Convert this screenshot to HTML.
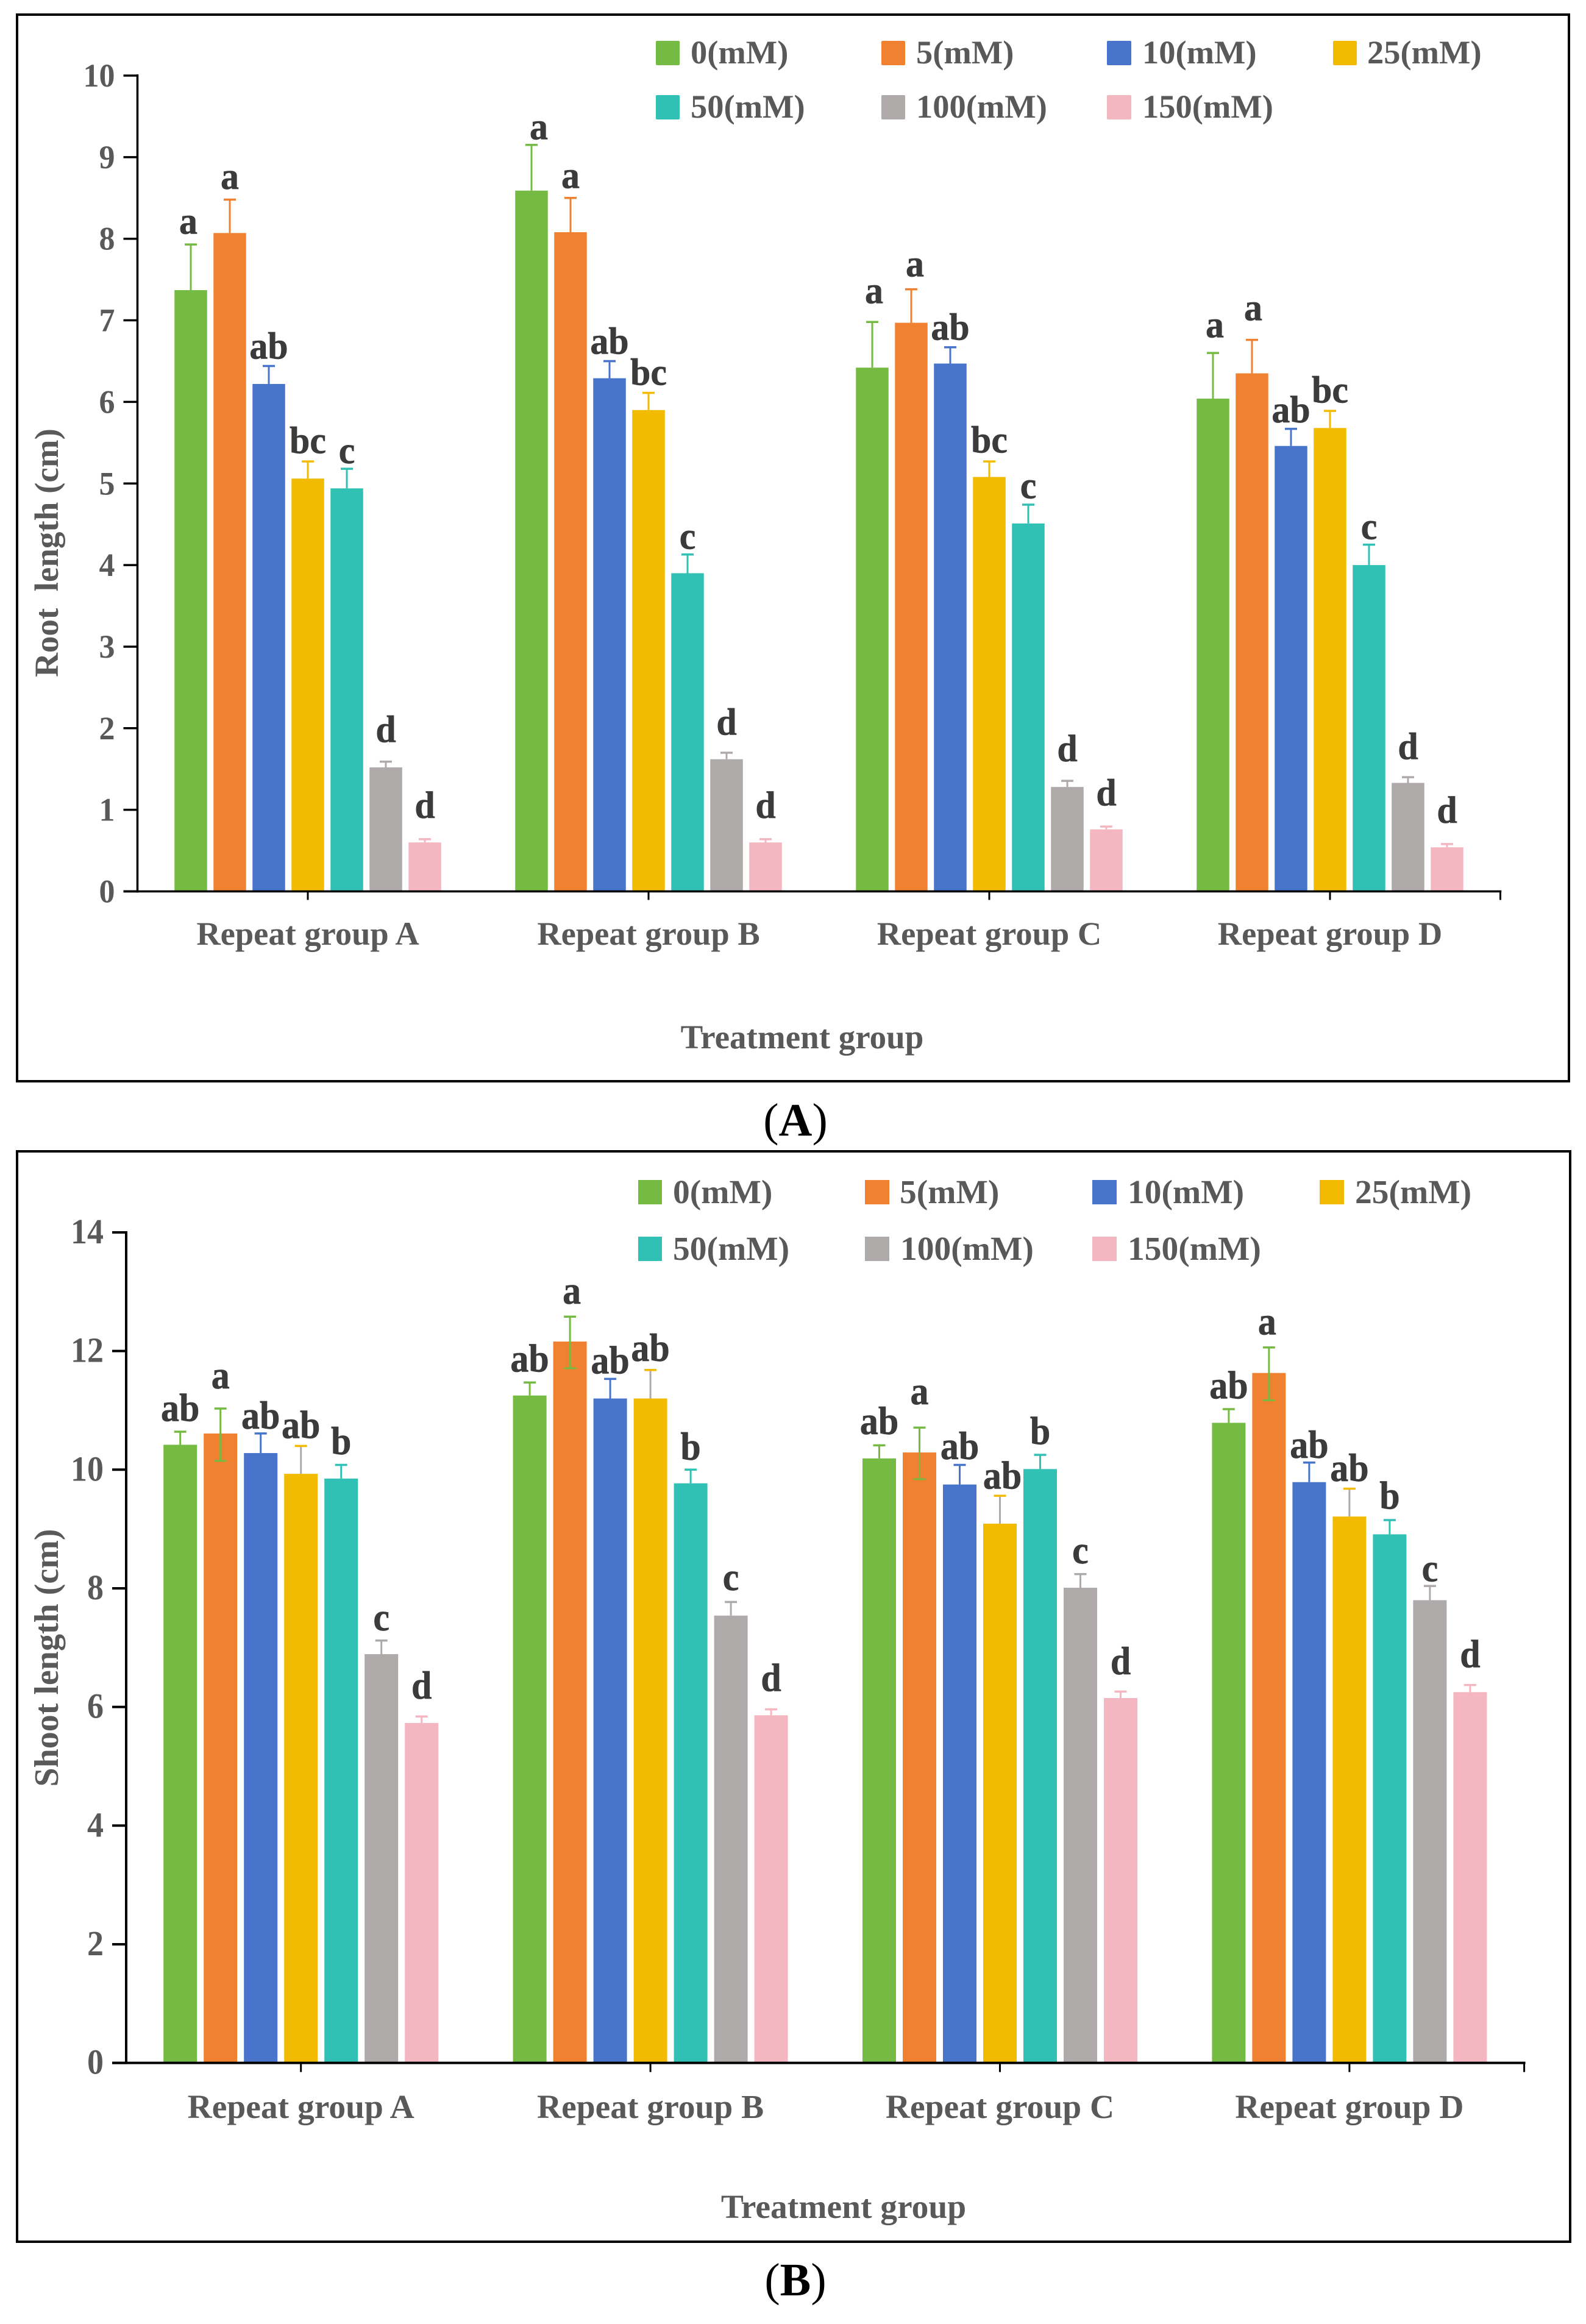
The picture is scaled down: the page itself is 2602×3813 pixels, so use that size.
<!DOCTYPE html>
<html lang="en">
<head>
<meta charset="utf-8">
<title>Root and shoot length by treatment group</title>
<style>
  html,body{margin:0;padding:0;background:#fff;}
  svg{display:block;}
  text{font-family:"Liberation Serif","Times New Roman",serif;}
  .t{font-weight:700;fill:#595959;white-space:pre;}
  .leg{font-size:54.5px;}
  .legb{font-size:55.5px;}
</style>
</head>
<body>
<svg id="figure" xmlns="http://www.w3.org/2000/svg" width="2602" height="3813" viewBox="0 0 2602 3813">
  <rect x="0" y="0" width="2602" height="3813" fill="#fff"/>

  <!-- Panel A -->
  <rect x="28" y="24" width="2546" height="1750" fill="none" stroke="#000" stroke-width="4"/>
  <g id="panelA"></g>
  <g>
    <rect x="1076" y="67" width="39" height="40" rx="2" fill="#75BB43"/>
    <text class="t leg" x="1133" y="104">0(mM)</text>
    <rect x="1446" y="67" width="39" height="40" rx="2" fill="#EF8130"/>
    <text class="t leg" x="1503" y="104">5(mM)</text>
    <rect x="1816" y="67" width="40" height="40" rx="2" fill="#4874CB"/>
    <text class="t leg" x="1874" y="104">10(mM)</text>
    <rect x="2187" y="67" width="39" height="40" rx="2" fill="#F2BB02"/>
    <text class="t leg" x="2243" y="104">25(mM)</text>
    <rect x="1076" y="156" width="39" height="40" rx="2" fill="#30C0B4"/>
    <text class="t leg" x="1133" y="193">50(mM)</text>
    <rect x="1446" y="156" width="39" height="40" rx="2" fill="#AEAAAA"/>
    <text class="t leg" x="1503" y="193">100(mM)</text>
    <rect x="1816" y="156" width="40" height="40" rx="2" fill="#F4B6C0"/>
    <text class="t leg" x="1874" y="193">150(mM)</text>
  </g>
  <text class="t" font-size="55" text-anchor="middle" x="1316" y="1720">Treatment group</text>
  <text class="t" font-size="55" text-anchor="middle" transform="translate(95,907) rotate(-90)" xml:space="preserve">Root  length (cm)</text>
  <text font-size="76" text-anchor="middle" x="1305" y="1863" fill="#000">(<tspan font-weight="700">A</tspan>)</text>

  <!-- Panel B -->
  <rect x="28" y="1889" width="2548" height="1789" fill="none" stroke="#000" stroke-width="4"/>
  <g id="panelB"></g>
  <g>
    <rect x="1047" y="1936" width="39" height="40" fill="#75BB43"/>
    <text class="t legb" x="1104" y="1974">0(mM)</text>
    <rect x="1419" y="1936" width="40" height="40" fill="#EF8130"/>
    <text class="t legb" x="1476" y="1974">5(mM)</text>
    <rect x="1792" y="1936" width="40" height="40" fill="#4874CB"/>
    <text class="t legb" x="1850" y="1974">10(mM)</text>
    <rect x="2165" y="1936" width="40" height="40" fill="#F2BB02"/>
    <text class="t legb" x="2223" y="1974">25(mM)</text>
    <rect x="1047" y="2029" width="39" height="40" fill="#30C0B4"/>
    <text class="t legb" x="1104" y="2067">50(mM)</text>
    <rect x="1419" y="2029" width="40" height="40" fill="#AEAAAA"/>
    <text class="t legb" x="1477" y="2067">100(mM)</text>
    <rect x="1792" y="2029" width="40" height="40" fill="#F4B6C0"/>
    <text class="t legb" x="1850" y="2067">150(mM)</text>
  </g>
  <text class="t" font-size="55.5" text-anchor="middle" x="1384" y="3639">Treatment group</text>
  <text class="t" font-size="56" text-anchor="middle" transform="translate(95,2720) rotate(-90)">Shoot length (cm)</text>
  <text font-size="76" text-anchor="middle" x="1305" y="3766" fill="#000">(<tspan font-weight="700">B</tspan>)</text>
</svg>

<script>
// ---- shared data ----
const categories = ['Repeat group A', 'Repeat group B', 'Repeat group C', 'Repeat group D'];
const seriesNames = ['0mm', '5mm', '10mm', '25mm', '50mm', '100mm', '150mm'];

// ---- root length (panel A), one array per repeat group, one value per concentration ----
const rootTicks = [0, 1, 2, 3, 4, 5, 6, 7, 8, 9, 10];
const rootMeansA = [7.37, 8.07, 6.22, 5.06, 4.94, 1.52, 0.60];
const rootMeansB = [8.59, 8.08, 6.29, 5.90, 3.90, 1.62, 0.60];
const rootMeansC = [6.42, 6.97, 6.47, 5.08, 4.51, 1.28, 0.76];
const rootMeansD = [6.04, 6.35, 5.46, 5.68, 4.00, 1.33, 0.54];
const rootUpperA = [7.93, 8.48, 6.44, 5.27, 5.18, 1.59, 0.64];
const rootUpperB = [9.15, 8.50, 6.50, 6.11, 4.13, 1.70, 0.64];
const rootUpperC = [6.98, 7.38, 6.67, 5.27, 4.74, 1.355, 0.795];
const rootUpperD = [6.60, 6.76, 5.67, 5.89, 4.25, 1.40, 0.58];
const rootLettersA = ['a', 'a', 'ab', 'bc', 'c', 'd', 'd'];
const rootLettersB = ['a', 'a', 'ab', 'bc', 'c', 'd', 'd'];
const rootLettersC = ['a', 'a', 'ab', 'bc', 'c', 'd', 'd'];
const rootLettersD = ['a', 'a', 'ab', 'bc', 'c', 'd', 'd'];
// how far above each error bar the letter sits, in axis units
const rootLiftA = [0.13, 0.13, 0.09, 0.10, 0.07, 0.24, 0.26];
const rootLiftB = [0.07, 0.12, 0.09, 0.10, 0.07, 0.22, 0.26];
const rootLiftC = [0.23, 0.16, 0.09, 0.11, 0.08, 0.24, 0.26];
const rootLiftD = [0.19, 0.24, 0.08, 0.10, 0.07, 0.22, 0.26];

// ---- shoot length (panel B) ----
const shootTicks = [0, 2, 4, 6, 8, 10, 12, 14];
const shootMeansA = [10.42, 10.61, 10.28, 9.93, 9.85, 6.89, 5.73];
const shootMeansB = [11.25, 12.16, 11.20, 11.20, 9.77, 7.54, 5.86];
const shootMeansC = [10.19, 10.29, 9.75, 9.09, 10.01, 8.01, 6.15];
const shootMeansD = [10.79, 11.63, 9.79, 9.21, 8.91, 7.80, 6.25];
const shootUpperA = [10.64, 11.03, 10.61, 10.40, 10.08, 7.12, 5.84];
const shootUpperB = [11.47, 12.58, 11.53, 11.68, 10.00, 7.77, 5.96];
const shootUpperC = [10.41, 10.71, 10.08, 9.56, 10.25, 8.24, 6.26];
const shootUpperD = [11.02, 12.06, 10.12, 9.68, 9.15, 8.04, 6.37];
// the 5 mM bars also show a lower whisker in panel B
const shootLowerOrange = [10.15, 11.71, 9.84, 11.17];
const shootLettersA = ['ab', 'a', 'ab', 'ab', 'b', 'c', 'd'];
const shootLettersB = ['ab', 'a', 'ab', 'ab', 'b', 'c', 'd'];
const shootLettersC = ['ab', 'a', 'ab', 'ab', 'b', 'c', 'd'];
const shootLettersD = ['ab', 'a', 'ab', 'ab', 'b', 'c', 'd'];
const shootLiftA = [0.18, 0.34, 0.08, 0.13, 0.18, 0.17, 0.30];
const shootLiftB = [0.18, 0.22, 0.09, 0.15, 0.17, 0.20, 0.31];
const shootLiftC = [0.19, 0.39, 0.10, 0.12, 0.18, 0.18, 0.29];
const shootLiftD = [0.18, 0.22, 0.08, 0.13, 0.19, 0.08, 0.30];

// ---- drawing ----
const SVGNS = 'http://www.w3.org/2000/svg';
const barColors = ['#75BB43', '#EF8130', '#4874CB', '#F2BB02', '#30C0B4', '#AEAAAA', '#F4B6C0'];

function make(tag, attrs, parent) {
  const node = document.createElementNS(SVGNS, tag);
  for (const k in attrs) node.setAttribute(k, attrs[k]);
  parent.appendChild(node);
  return node;
}

function drawChart(opt) {
  const root = document.getElementById(opt.id);
  const yOf = v => opt.y0 - v * opt.unit;
  const catX = i => opt.axisX + (i + 0.5) * opt.catStep;
  const barX = (c, s) => catX(c) + (s - 3) * opt.barStep;

  // bars, whiskers, letters
  opt.means.forEach((groupMeans, c) => {
    groupMeans.forEach((mean, s) => {
      const cx = barX(c, s);
      const bar = make('rect', {x: cx - opt.barW / 2, y: yOf(mean), width: opt.barW, height: opt.y0 - yOf(mean), fill: barColors[s]}, root);
      
      
    });
  });
  opt.means.forEach((groupMeans, c) => {
    groupMeans.forEach((mean, s) => {
      const cx = barX(c, s);
      const upper = opt.upper[c][s];
      const hasLower = opt.lower && s === 1;
      const capColor = hasLower ? barColors[0] : barColors[s];
      const stemColor = (opt.lower && s === 3) ? barColors[5] : capColor;
      const stemEnd = hasLower ? yOf(opt.lower[c]) : yOf(mean);
      const stem = make('line', {x1: cx, x2: cx, y1: yOf(upper), y2: stemEnd, stroke: stemColor, 'stroke-width': 3}, root);
      
      
      const cap = make('line', {x1: cx - 10, x2: cx + 10, y1: yOf(upper), y2: yOf(upper), stroke: capColor, 'stroke-width': 3.5}, root);
      
      
      if (hasLower) {
        const lowCap = make('line', {x1: cx - 10, x2: cx + 10, y1: yOf(opt.lower[c]), y2: yOf(opt.lower[c]), stroke: capColor, 'stroke-width': 3}, root);
        
        
      }
      const nudge = (opt.letterNudge && opt.letterNudge[c + '-' + s]) || 0;
      const label = make('text', {transform: 'translate(' + (cx + nudge) + ',' + yOf(upper + opt.lift[c][s]) + ') scale(1,' + opt.letterStretch + ')', 'text-anchor': 'middle', 'font-size': 60, 'font-weight': 700, fill: '#3b3b3b', stroke: '#3b3b3b', 'stroke-width': 0.6}, root);
      
      
      label.textContent = opt.letters[c][s];
    });
  });

  // y axis
  const yAxis = make('line', {x1: opt.axisX, x2: opt.axisX, y1: yOf(opt.ticks[opt.ticks.length - 1]) - 2, y2: opt.y0 + 2, stroke: '#000', 'stroke-width': opt.axisW}, root);
  
  
  opt.ticks.forEach(t => {
    const tick = make('line', {x1: opt.axisX - 23, x2: opt.axisX, y1: yOf(t), y2: yOf(t), stroke: '#000', 'stroke-width': opt.axisW}, root);
    
    
    const lab = make('text', {transform: 'translate(' + (opt.axisX - 37) + ',' + (yOf(t) + 18) + ') scale(1,' + opt.tickStretch + ')', 'text-anchor': 'end', 'font-size': opt.tickFont, class: 't'}, root);
    
    
    lab.textContent = String(t);
  });

  // x axis
  const xEnd = opt.axisX + categories.length * opt.catStep;
  const xAxis = make('line', {x1: opt.axisX - 23, x2: xEnd + opt.axisW / 2, y1: opt.y0, y2: opt.y0, stroke: '#000', 'stroke-width': opt.axisW}, root);
  
  
  const endTick = make('line', {x1: xEnd, x2: xEnd, y1: opt.y0, y2: opt.y0 + opt.xTick, stroke: '#000', 'stroke-width': 3}, root);
  
  
  categories.forEach((name, c) => {
    const tick = make('line', {x1: catX(c), x2: catX(c), y1: opt.y0, y2: opt.y0 + opt.xTick, stroke: '#000', 'stroke-width': 3}, root);
    
    
    const lab = make('text', {x: catX(c), y: opt.catY, 'text-anchor': 'middle', 'font-size': opt.catFont, class: 't'}, root);
    
    
    lab.textContent = name;
  });
}

drawChart({
  id: 'panelA', axisX: 225.5, y0: 1462.5, unit: 133.85, catStep: 559, barStep: 64, barW: 53.5,
  axisW: 3.5, xTick: 14, tickFont: 52, tickStretch: 1.03, catFont: 54.5, catY: 1550,
  letterStretch: 1.05, letterNudge: {'0-0': -4, '1-0': 12, '2-0': 3, '2-1': 6, '3-0': 3, '3-1': 2},
  ticks: rootTicks,
  means: [rootMeansA, rootMeansB, rootMeansC, rootMeansD],
  upper: [rootUpperA, rootUpperB, rootUpperC, rootUpperD],
  letters: [rootLettersA, rootLettersB, rootLettersC, rootLettersD],
  lift: [rootLiftA, rootLiftB, rootLiftC, rootLiftD]
});

drawChart({
  id: 'panelB', axisX: 207, y0: 3384.6, unit: 97.33, catStep: 573.4, barStep: 66, barW: 55,
  axisW: 4, xTick: 15, tickFont: 54, tickStretch: 1.08, catFont: 55.5, catY: 3475,
  letterStretch: 1.08, letterNudge: {'1-1': 3, '2-3': 4, '3-1': -3},
  ticks: shootTicks,
  means: [shootMeansA, shootMeansB, shootMeansC, shootMeansD],
  upper: [shootUpperA, shootUpperB, shootUpperC, shootUpperD],
  lower: shootLowerOrange,
  letters: [shootLettersA, shootLettersB, shootLettersC, shootLettersD],
  lift: [shootLiftA, shootLiftB, shootLiftC, shootLiftD]
});
</script>
</body>
</html>
